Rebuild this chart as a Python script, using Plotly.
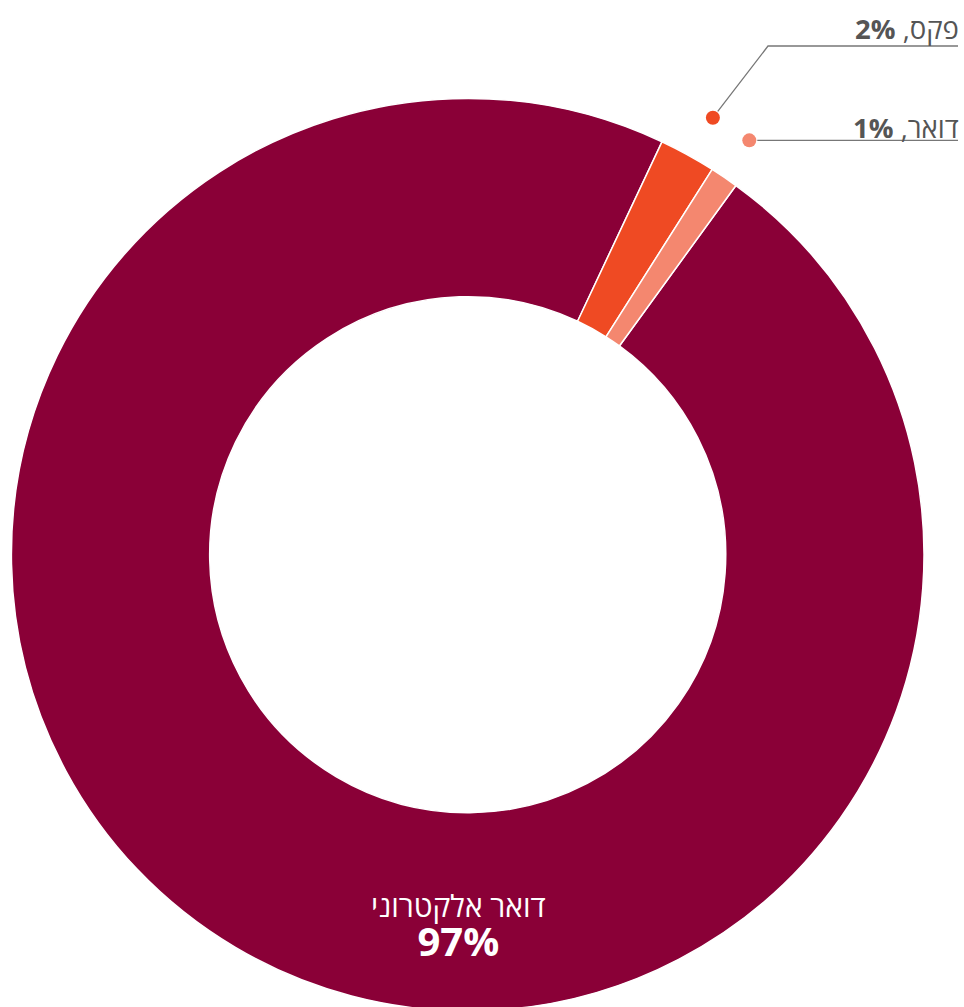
import math
import plotly.graph_objects as go

# ---- data ----
categories = ["דואר אלקטרוני", "פקס", "דואר"]
values = [97, 2, 1]
colors = ["#8A0037", "#EF4A23", "#F4876F"]

# ---- layout constants (pixels) ----
W, H = 964, 1012
CX, CY, R = 467.7, 554.7, 456.3
HOLE = 0.5655
ROTATION = 36
DOT_R = 501
LABEL_X = 960

fig = go.Figure()

fig.add_trace(go.Pie(
    labels=categories, values=values, sort=False, direction="clockwise",
    rotation=ROTATION, hole=HOLE, textinfo="none", hoverinfo="label+percent",
    marker=dict(colors=colors, line=dict(color="white", width=1.5)),
    domain=dict(x=[(CX - R) / W, (CX + R) / W],
                y=[max(0, (H - (CY + R)) / H), (H - (CY - R)) / H]),
    showlegend=False,
))

total = sum(values)
# slice mid angles (degrees clockwise from 12 o'clock)
angles = []
start = ROTATION
for v in values:
    span = 360 * v / total
    angles.append((start + span / 2) % 360)
    start += span

# external labels for the small slices
label_rows = [None, 28, 127]      # text mid y (px)
elbows = [None, (768, 46), None]
for i in (1, 2):
    a = math.radians(angles[i] + (0.5 if i == 1 else 0))
    dx = CX + DOT_R * math.sin(a)
    dy = CY - DOT_R * math.cos(a)
    if elbows[i] is not None:
        ex, ey = elbows[i]
        L = math.hypot(ex - dx, ey - dy)
        xs = [dx + (ex - dx) * 8 / L, ex, LABEL_X - 2]
        ys = [dy + (ey - dy) * 8 / L, ey, ey]
    else:
        xs = [dx + 8, LABEL_X - 2]
        ys = [dy, dy]
    fig.add_trace(go.Scatter(x=xs, y=ys, mode="lines",
                             line=dict(color="#777777", width=1.3),
                             hoverinfo="skip", showlegend=False))
    fig.add_trace(go.Scatter(x=[dx], y=[dy], mode="markers",
                             marker=dict(color=colors[i], size=14),
                             hoverinfo="skip", showlegend=False))
    fig.add_annotation(x=LABEL_X, y=label_rows[i], xref="x", yref="y",
                       text=f"{categories[i]}, <b>{values[i]}%</b>",
                       showarrow=False, xanchor="right", yanchor="middle",
                       borderpad=0,
                       font=dict(family="Open Sans", size=27.5, color="#555555"))

# inner label of the big slice
fig.add_annotation(x=458, y=926, xref="x", yref="y",
                   text=f"{categories[0]}<br><span style='font-size:40px'><b>{values[0]}%</b></span>",
                   showarrow=False, xanchor="center", yanchor="middle",
                   font=dict(family="Open Sans", size=30, color="white"))

fig.update_layout(
    width=W, height=H, margin=dict(l=0, r=0, t=0, b=0),
    paper_bgcolor="white", plot_bgcolor="rgba(0,0,0,0)",
    xaxis=dict(range=[0, W], visible=False, fixedrange=True),
    yaxis=dict(range=[H, 0], visible=False, fixedrange=True),
)

fig.write_html("out.html", config={"displayModeBar": False},
               post_script="document.documentElement.style.overflow='hidden';document.body.style.overflow='hidden';")
